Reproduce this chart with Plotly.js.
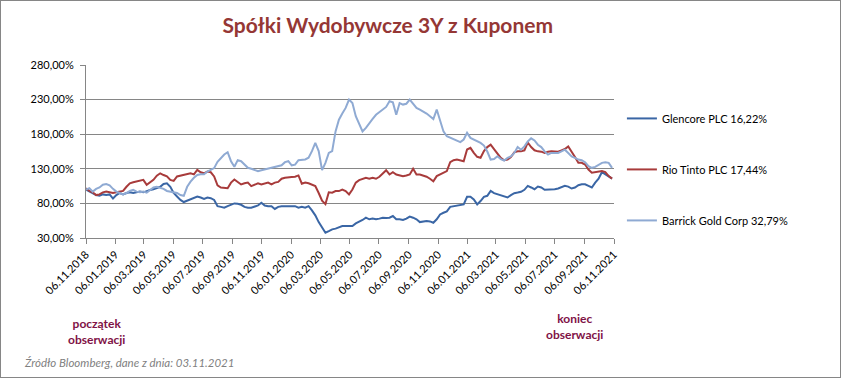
<!DOCTYPE html>
<html><head><meta charset="utf-8">
<script src="https://cdn.plot.ly/plotly-3.0.1.min.js"></script>
<style>
html,body{margin:0;padding:0;background:#fff;}
#chart{width:841px;height:378px;box-sizing:border-box;border:1px solid #868686;}
</style></head><body><div id="chart"></div>
<script>
const dates = [
'2018-11-06','2018-11-13','2018-11-20','2018-11-27','2018-12-04','2018-12-11','2018-12-18','2018-12-25',
'2019-01-01','2019-01-08','2019-01-15','2019-01-22','2019-01-29','2019-02-05','2019-02-12','2019-02-19','2019-02-26',
'2019-03-05','2019-03-12','2019-03-19','2019-03-26','2019-04-02','2019-04-09','2019-04-16','2019-04-23','2019-04-30',
'2019-05-07','2019-05-14','2019-05-21','2019-05-28','2019-06-04','2019-06-11','2019-06-18','2019-06-25',
'2019-07-02','2019-07-09','2019-07-16','2019-07-23','2019-07-30','2019-08-06','2019-08-13','2019-08-20','2019-08-27',
'2019-09-03','2019-09-10','2019-09-17','2019-09-24','2019-10-01','2019-10-08','2019-10-15','2019-10-22','2019-10-29',
'2019-11-05','2019-11-12','2019-11-19','2019-11-26','2019-12-03','2019-12-10','2019-12-17','2019-12-24','2019-12-31',
'2020-01-07','2020-01-14','2020-01-21','2020-01-28','2020-02-04','2020-02-11','2020-02-18','2020-02-25',
'2020-03-03','2020-03-10','2020-03-17','2020-03-24','2020-03-31','2020-04-07','2020-04-14','2020-04-21','2020-04-28',
'2020-05-05','2020-05-12','2020-05-19','2020-05-26','2020-06-02','2020-06-09','2020-06-16','2020-06-23','2020-06-30',
'2020-07-07','2020-07-14','2020-07-21','2020-07-28','2020-08-04','2020-08-11','2020-08-18','2020-08-25',
'2020-09-01','2020-09-08','2020-09-15','2020-09-22','2020-09-29','2020-10-06','2020-10-13','2020-10-20','2020-10-27',
'2020-11-03','2020-11-10','2020-11-17','2020-11-24','2020-12-01','2020-12-08','2020-12-15','2020-12-22','2020-12-29',
'2021-01-05','2021-01-12','2021-01-19','2021-01-26','2021-02-02','2021-02-09','2021-02-16','2021-02-23',
'2021-03-02','2021-03-09','2021-03-16','2021-03-23','2021-03-30','2021-04-06','2021-04-13','2021-04-20','2021-04-27',
'2021-05-04','2021-05-11','2021-05-18','2021-05-25','2021-06-01','2021-06-08','2021-06-15','2021-06-22','2021-06-29',
'2021-07-06','2021-07-13','2021-07-20','2021-07-27','2021-08-03','2021-08-10','2021-08-17','2021-08-24','2021-08-31',
'2021-09-07','2021-09-14','2021-09-21','2021-09-28','2021-10-05','2021-10-12','2021-10-19','2021-10-26','2021-11-02'
];

const glencore = [
100, 97, 95, 92, 91, 93, 92, 93, 87, 92,
95, 93, 95, 96, 95, 96, 97, 96, 98, 99.5,
100.5, 102, 104, 108, 109, 104, 95, 90, 85, 82,
84, 85, 87.5, 90, 88.5, 86.5, 88.5, 87.5, 85, 76,
75, 73.7, 76, 78.5, 80, 79.5, 78, 75, 73.7, 73.7,
75, 77, 81, 77, 76, 76, 72, 75, 76, 76,
76, 77, 76, 73.7, 75, 73.7, 76, 70, 62.7, 53,
45, 37.7, 40, 42.5, 43.5, 45.5, 47.3, 47.3, 47.3,
47.3, 51, 53, 56, 59.3, 57, 58, 57, 58, 59.3,
59, 59.3, 61.7, 57, 57, 56, 58, 61, 59.3, 57,
53, 54, 54.5, 54, 52, 57, 64, 66.5, 68.4, 75,
76, 76, 77, 78.5, 89.6, 89.6, 85.6, 78.5, 83.4, 89.6,
91, 98, 94.8, 93.4, 92, 91, 88.6, 92, 94.8, 95.7,
96.7, 99.6, 105.3, 103, 100.5, 104.3, 103, 99.6, 99.6, 100.5,
100.5, 101.5, 103, 105.3, 104.3, 101.5, 103, 106.2, 107.6, 107.6,
105.3, 103, 110, 115.7, 125.3, 122, 118.6, 115.8
];

const rioTinto = [
102, 98, 96, 92, 93, 96, 97, 96, 95, 96,
97, 98, 104, 109, 110.5, 111.5, 112.5, 114, 106.7, 110.5,
114, 120, 123.5, 121, 119, 114, 112.5, 119, 120, 121,
122, 123.5, 122, 128.5, 125, 123.5, 126, 125, 119, 106,
103, 102, 102, 110, 114.6, 111, 107.4, 109, 110, 105,
107.4, 109, 107.4, 109, 110, 107.4, 110, 111, 115.6, 117,
117, 118, 118.5, 120.4, 108.4, 110, 109, 107.4, 105, 95,
84, 79, 96, 95.4, 97.8, 97.8, 100, 97.8, 93,
100, 110, 113.6, 115.6, 117, 115.6, 117, 115.6, 118.5, 123.3,
128, 121.8, 125, 121.8, 120.4, 119.4, 120.4, 121.8, 130, 121.8,
121.8, 120.4, 118.5, 115.6, 112, 119.4, 121.8, 124, 126.6, 139.6,
142.5, 143.5, 142.5, 141, 157.9, 160.3, 153, 147.3, 146, 155.5,
161.4, 164.8, 158.6, 152, 145.7, 142.4, 143.3, 147, 153.8, 155.2,
155.2, 156.7, 168, 161.4, 156.7, 155.2, 154.8, 152.9, 154.8, 155.2,
155.2, 154.8, 156.7, 158.6, 162.4, 155.2, 147, 138.6, 138.6, 136.2,
129, 124.3, 125.3, 126.7, 126.7, 125.3, 119.5, 115.8
];

const barrick = [
100, 102, 97, 101, 103, 107, 108, 106, 101, 97,
95, 93, 95, 98, 99.5, 97, 96, 97, 95.5, 99.5,
103, 104, 103, 101, 98, 97, 96, 95, 92, 91,
104, 111.5, 117, 121, 122, 122, 126, 128, 131, 140,
146, 150.7, 154, 141, 133, 142.5, 141, 136, 131.4, 130,
128, 126.6, 128, 129, 130, 131, 133, 133, 135, 139.6,
141, 135, 136, 142.5, 142.5, 143.5, 146, 155.5, 167.5, 155.5,
128, 138.6, 153, 155.5, 184, 201, 210, 218, 230,
225, 206, 196, 184, 189, 196, 202, 208, 211.7, 215.6,
219.4, 227.6, 226, 208, 225, 222.8, 224, 230, 224, 218,
215.6, 213, 209.8, 206, 202, 215.6, 198.7, 184, 177, 174.7,
172.3, 170, 168.5, 172.3, 182, 174.7, 172.3, 170, 167.5, 163.6,
155, 143.3, 144, 148, 144, 142, 145.7, 148, 152.9, 161.4,
157.6, 162.4, 169.5, 174, 171, 164.8, 161.4, 155.2, 150.5, 152.9,
152.9, 152.9, 155.2, 157.6, 152.9, 148, 145.7, 143.3, 142.4, 139.5,
133.8, 131.4, 132.8, 136.2, 138.6, 139.5, 138.6, 131.4
];

const seriesNames = ['Glencore PLC 16,22%', 'Rio Tinto PLC 17,44%', 'Barrick Gold Corp 32,79%'];
const seriesColors = ['#3A66A5', '#A83B3B', '#8FAAD3'];

const yTickVals = [30, 80, 130, 180, 230, 280];
const yTickText = ['30,00%', '80,00%', '130,00%', '180,00%', '230,00%', '280,00%'];

const xTickVals = ['2018-11-06','2019-01-06','2019-03-06','2019-05-06','2019-07-06','2019-09-06',
  '2019-11-06','2020-01-06','2020-03-06','2020-05-06','2020-07-06','2020-09-06','2020-11-06',
  '2021-01-06','2021-03-06','2021-05-06','2021-07-06','2021-09-06','2021-11-06'];
const xTickText = ['06.11.2018','06.01.2019','06.03.2019','06.05.2019','06.07.2019','06.09.2019',
  '06.11.2019','06.01.2020','06.03.2020','06.05.2020','06.07.2020','06.09.2020','06.11.2020',
  '06.01.2021','06.03.2021','06.05.2021','06.07.2021','06.09.2021','06.11.2021'];

const titleText = 'Spółki Wydobywcze 3Y z Kuponem';
const startNote = 'początek<br>obserwacji';
const endNote = 'koniec<br>obserwacji';
const sourceNote = 'Źródło Bloomberg, dane z dnia: 03.11.2021';

const FONT = 'Lato, "Open Sans", sans-serif';
const allSeries = [glencore, rioTinto, barrick];

const traces = allSeries.map((vals, k) => ({
  type: 'scatter', mode: 'lines', x: dates, y: vals,
  name: seriesNames[k], legendgroup: 'g' + k,
  line: {color: seriesColors[k], width: 2},
  hoverinfo: 'skip'
}));

const layout = {
  width: 839, height: 376,
  margin: {l: 85, r: 226, t: 64, b: 139},
  paper_bgcolor: '#fff', plot_bgcolor: '#fff',
  font: {family: FONT, size: 11, color: '#000'},
  title: {text: titleText, font: {family: FONT, size: 21, color: '#953735', weight: 'bold'},
    xref: 'container', x: 0.461, xanchor: 'center', yref: 'container', y: 0.935, yanchor: 'middle'},
  showlegend: true,
  legend: {x: 1.015, xanchor: 'left', y: 0.775, yanchor: 'top', tracegroupgap: 32,
    font: {family: FONT, size: 11, color: '#000'}, bgcolor: 'rgba(0,0,0,0)'},
  xaxis: {type: 'date', range: ['2018-11-06', '2021-11-06'], tickvals: xTickVals, ticktext: xTickText,
    tickangle: -45, ticks: 'outside', ticklen: 5, tickcolor: '#868686', showline: true,
    linecolor: '#868686', linewidth: 1, showgrid: false, zeroline: false,
    tickfont: {family: FONT, size: 11, color: '#000'}},
  yaxis: {range: [30, 280], tickvals: yTickVals, ticktext: yTickText, ticks: 'outside', ticklen: 5,
    tickcolor: '#868686', showline: true, linecolor: '#868686', linewidth: 1, showgrid: true,
    gridcolor: '#868686', gridwidth: 1, zeroline: false, ticklabelstandoff: 4,
    tickfont: {family: FONT, size: 11, color: '#000'}},
  annotations: [
    {text: startNote, xref: 'paper', yref: 'paper', x: 0.0208, y: -0.5376, xanchor: 'center', yanchor: 'middle',
      showarrow: false, font: {family: FONT, size: 12, color: '#7F1246', weight: 'bold'}},
    {text: endNote, xref: 'paper', yref: 'paper', x: 0.926, y: -0.509, xanchor: 'center', yanchor: 'middle',
      showarrow: false, font: {family: FONT, size: 12, color: '#7F1246', weight: 'bold'}},
    {text: sourceNote, xref: 'paper', yref: 'paper', x: -0.1212, y: -0.7168, xanchor: 'left', yanchor: 'middle',
      showarrow: false, font: {family: FONT, size: 11.5, color: '#7F7F7F', style: 'italic'}}
  ]
};

Plotly.newPlot('chart', traces, layout, {displayModeBar: false, staticPlot: true});
</script>
</body></html>
